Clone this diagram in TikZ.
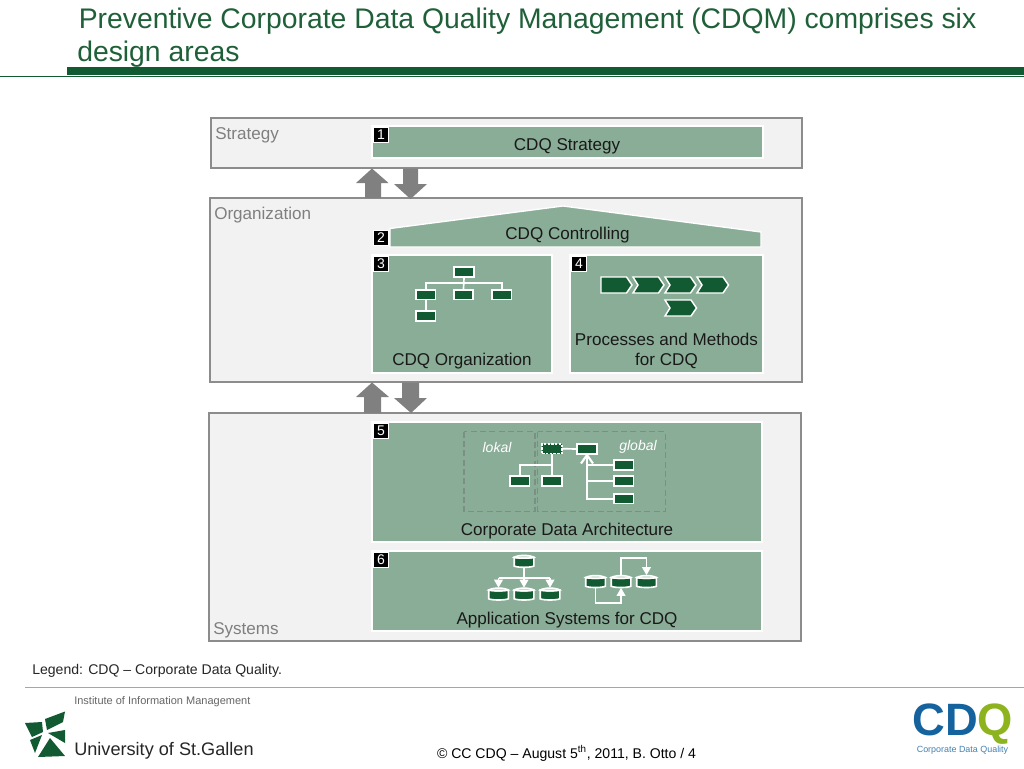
\documentclass[tikz,border=0pt]{standalone}
\usepackage{fontspec}
\setmainfont{Liberation Sans}
\usetikzlibrary{arrows.meta}
\definecolor{hsggreen}{HTML}{125A32}
\definecolor{titlegreen}{HTML}{1F6039}
\definecolor{panelgreen}{HTML}{8AAD97}
\definecolor{darkbox}{HTML}{125A32}
\definecolor{panelgrey}{HTML}{F2F2F2}
\definecolor{edgegrey}{HTML}{8C8C8C}
\definecolor{arrowgrey}{HTML}{808080}
\definecolor{labelgrey}{HTML}{7F7F7F}
\definecolor{dashgrey}{HTML}{7C8F83}
\definecolor{cdqblue}{HTML}{14639E}
\definecolor{cdqlime}{HTML}{8DB31E}
\tikzset{
  layerbox/.style={draw=edgegrey,fill=panelgrey,line width=1pt},
  panelbox/.style={draw=white,fill=panelgreen,line width=1pt},
  numtag/.style={fill=black,text=white,draw=white,line width=.4pt,minimum width=11.6pt,minimum height=11.6pt,inner sep=0pt,font=\fontsize{10.5}{10.5}\selectfont},
  layertxt/.style={text=labelgrey,anchor=base west,inner sep=0pt,font=\fontsize{12.8}{14}\selectfont},
  paneltxt/.style={text=black!90,inner sep=0pt,align=center,font=\fontsize{12.8}{15}\selectfont},
  orgbox/.style={draw=white,fill=darkbox,line width=1.25pt,minimum width=14.6pt,minimum height=7.4pt,inner sep=0pt},
  link/.style={draw=white,line width=1.25pt},
  whitearrow/.style={draw=white,line width=1.25pt,-{Triangle[width=6.4pt,length=6pt]}},
  chev/.style={draw=white,fill=darkbox,line width=1.1pt,line join=miter},
  dbox/.style={draw=dashgrey,line width=.9pt,dash pattern=on 4.5pt off 2.5pt},
  bigarrow/.style={fill=arrowgrey,draw=none},
  cylspot/.style={minimum width=15.5pt,minimum height=9.4pt,inner sep=0pt,outer sep=0pt},
  cylbody/.style={draw=white,fill=darkbox,line width=1.2pt},
  cyltop/.style={draw=white,fill=panelgreen!45!white,line width=1.1pt},
}
\newcommand{\dbcyl}[3]{%
  \node[cylspot] (#1) at (#2,#3) {};
  \begin{scope}[shift={(#1)}]
    \draw[cylbody] (-9.8,-4) -- (-9.8,4.8) .. controls (-6,6.4) and (6,6.4) .. (9.8,4.8) -- (9.8,-4) .. controls (6,-2.9) and (-6,-2.9) .. (-9.8,-4) -- cycle;
    \draw[cyltop] (-9.8,-4) .. controls (-6,-6.6) and (6,-6.6) .. (9.8,-4) .. controls (6,-2.9) and (-6,-2.9) .. (-9.8,-4) -- cycle;
  \end{scope}}
\begin{document}
\begin{tikzpicture}[x=.75pt,y=-.75pt]
\useasboundingbox (0,0) rectangle (1024,768);
\fill[white] (0,0) rectangle (1024,768);
% header
\node[anchor=base west,inner sep=0pt,text=titlegreen,font=\fontsize{21.25}{21.25}\selectfont] (title1) at (78.5,28) {Preventive Corporate Data Quality Management (CDQM) comprises six};
\node[anchor=base west,inner sep=0pt,text=titlegreen,font=\fontsize{21.25}{21.25}\selectfont] (title2) at (77,61) {design areas};
\fill[hsggreen] (67,67) rectangle (1024,75);
\fill[hsggreen] (0,76) rectangle (1024,77);
% layers
\draw[layerbox] (211,118) rectangle (802,168);
\draw[layerbox] (210,198) rectangle (802,382);
\draw[layerbox] (209,413) rectangle (801,641);
\node[layertxt] (lstrategy) at (215,139) {Strategy};
\node[layertxt] (lorg) at (214,219) {Organization};
\node[layertxt] (lsys) at (213,634) {Systems};
% big arrows
\fill[bigarrow] (372,168.5) -- (388.5,183) -- (381,183) -- (381,198) -- (365,198) -- (365,183) -- (356,183) -- cycle;
\fill[bigarrow] (403,168.5) -- (418,168.5) -- (418,184) -- (427,184) -- (410.5,199) -- (394,184) -- (403,184) -- cycle;
\fill[bigarrow] (372,382.5) -- (389,397) -- (381,397) -- (381,413) -- (364,413) -- (364,397) -- (356,397) -- cycle;
\fill[bigarrow] (402,382.5) -- (419,382.5) -- (419,398) -- (427,398) -- (411,413) -- (394,398) -- (402,398) -- cycle;
% panel 1
\draw[panelbox] (372,126) rectangle (763,158);
\node[paneltxt] (p1) at (567,146) {CDQ Strategy};
\node[numtag] (n1) at (381,135) {1};
% panel 2
\draw[panelbox] (390,247) -- (390,228.5) -- (563,206) -- (761,232) -- (761,247) -- cycle;
\node[paneltxt] (p2) at (567.5,235) {CDQ Controlling};
\node[numtag] (n2) at (381,238) {2};
% panel 3
\draw[panelbox] (372,255) rectangle (552,373);
\node[numtag] (n3) at (381,264) {3};
\node[paneltxt] (p3) at (462,361) {CDQ Organization};
\node[orgbox] (o1) at (464,272) {};
\node[orgbox] (o2) at (425.7,294.7) {};
\node[orgbox] (o3) at (463.5,294.7) {};
\node[orgbox] (o4) at (501.7,294.7) {};
\node[orgbox] (o5) at (425.7,316) {};
\draw[link] (o1.south) -- (o3.north);
\draw[link] (o2.north) |- (464,283.3) -| (o4.north);
\draw[link] (o2.south) -- (o5.north);
% panel 4
\draw[panelbox] (570,255) rectangle (763,373);
\node[numtag] (n4) at (579,264) {4};
\node[paneltxt] (p4) at (666.5,350.5) {Processes and Methods\\for CDQ};
\draw[chev] (601,277) -- (626.5,277) -- (632,285) -- (626.5,293) -- (601,293) -- cycle;
\draw[chev] (633,277) -- (658.5,277) -- (664,285) -- (658.5,293) -- (633,293) -- (638,285) -- cycle;
\draw[chev] (665,277) -- (690.5,277) -- (696,285) -- (690.5,293) -- (665,293) -- (670,285) -- cycle;
\draw[chev] (697,277) -- (723,277) -- (728.5,285) -- (723,293) -- (697,293) -- (702,285) -- cycle;
\draw[chev] (665,300) -- (691,300) -- (696.5,308) -- (691,316) -- (665,316) -- (670,308) -- cycle;
% panel 5
\draw[panelbox] (372,422) rectangle (762,542);
\node[numtag] (n5) at (381,431) {5};
\node[paneltxt] (p5) at (567,531.5) {Corporate Data Architecture};
\draw[dbox] (464,431.5) rectangle (535,511.5);
\draw[dbox] (537.7,431.5) rectangle (665.7,511.5);
\node[anchor=center,inner sep=0pt,text=white,font=\itshape\fontsize{10.5}{12}\selectfont] (lok) at (497,447) {lokal};
\node[anchor=center,inner sep=0pt,text=white,font=\itshape\fontsize{10.5}{12}\selectfont] (glob) at (638,447) {global};
\node[orgbox,dash pattern=on 1.8pt off 1pt] (a1) at (552,448.7) {};
\node[orgbox] (a2) at (587,449) {};
\node[orgbox] (a3) at (519.7,481) {};
\node[orgbox] (a4) at (552,481) {};
\node[orgbox] (a5) at (623.7,465) {};
\node[orgbox] (a6) at (623.7,481) {};
\node[orgbox] (a7) at (623.7,498.7) {};
\draw[link] (a1.east) -- (a2.west);
\draw[link] (a1.south) -- (a4.north);
\draw[link] (a3.north) |- (552,465);
\draw[link] (a5.west) -- (587,465);
\draw[link] (a6.west) -- (587,481);
\draw[link] (a7.west) -| (a2.south);
\draw[draw=white,line width=1.6pt,line join=miter] (581,463.5) -- (587,455) -- (593,463.5);
% panel 6
\draw[panelbox] (372,551) rectangle (762,631);
\node[numtag] (n6) at (381,560) {6};
\node[paneltxt] (p6) at (567,620) {Application Systems for CDQ};
\dbcyl{c1}{524}{561.3}
\dbcyl{c2}{498.5}{594}
\dbcyl{c3}{524}{594}
\dbcyl{c4}{550}{594}
\dbcyl{c5}{595.5}{581.5}
\dbcyl{c6}{621}{581.5}
\dbcyl{c7}{646.5}{581.5}
\coordinate (bus) at (524,578.3);
\draw[link] (c1.south) -- (bus);
\draw[link] (c2.north |- bus) -- (c4.north |- bus);
\draw[whitearrow] (c2.north |- bus) -- (c2.north);
\draw[whitearrow] (c3.north |- bus) -- (c3.north);
\draw[whitearrow] (c4.north |- bus) -- (c4.north);
\coordinate (lowbus) at (621,603.3);
\coordinate (highbus) at (621,557.7);
\draw[whitearrow] (c5.south) |- (lowbus) -- (c6.south);
\draw[whitearrow] (c6.north) -- (highbus) -| (c7.north);
% legend + footer
\node[anchor=base west,inner sep=0pt,text=black!85,font=\fontsize{10.55}{12}\selectfont] (legend) at (32,674) {Legend: CDQ – Corporate Data Quality.};
\draw[draw=black!35,line width=.6pt] (25,687) -- (1024,687);
\node[anchor=base west,inner sep=0pt,text=black!60,font=\fontsize{8.25}{9}\selectfont] (inst) at (74,704) {Institute of Information Management};
\node[anchor=base west,inner sep=0pt,text=black!85,font=\fontsize{13.6}{16}\selectfont] (hsg) at (74,755) {University of St.Gallen};
\fill[hsggreen] (45,719) -- (65,711.5) -- (63,722) -- (47,730) -- cycle;
\fill[hsggreen] (25,723) -- (42,722) -- (43,732) -- (32,737) -- cycle;
\fill[hsggreen] (48,733) -- (65,730) -- (65,743) -- cycle;
\fill[hsggreen] (30,740) -- (42,735) -- (35,753) -- cycle;
\fill[hsggreen] (50,738) -- (65,756) -- (38,757) -- cycle;
\node[anchor=base,inner sep=0pt,text=black,font=\fontsize{10.55}{12}\selectfont] (foot) at (566.5,758) {© CC CDQ – August 5\textsuperscript{th}, 2011, B. Otto / 4};
\node[anchor=base west,inner sep=0pt,text=cdqblue,font=\bfseries\fontsize{34}{34}\selectfont] (cd) at (912,735.5) {CD};
\node[anchor=base west,inner sep=0pt,text=cdqlime,font=\bfseries\fontsize{34}{34}\selectfont] (q) at (977,735.5) {Q};
\node[anchor=base,inner sep=0pt,text=cdqblue!80,font=\fontsize{6.7}{8}\selectfont] (cdqt) at (962.5,752) {Corporate Data Quality};
\end{tikzpicture}
\end{document}
